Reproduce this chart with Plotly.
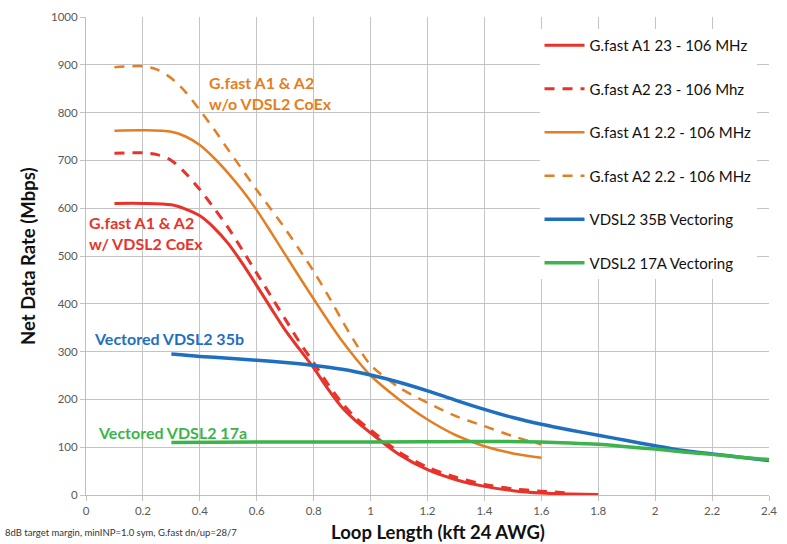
import plotly.graph_objects as go

# ---- data ----
red_solid_x = [0.1, 0.2, 0.3, 0.35, 0.4, 0.45, 0.5, 0.55, 0.6, 0.65, 0.7, 0.75, 0.8, 0.85, 0.9, 0.95, 1.0, 1.1, 1.2, 1.3, 1.4, 1.5, 1.6, 1.7, 1.8]
red_solid_y = [610, 610, 607, 598, 584, 559, 526, 484, 438, 391, 345, 305, 266, 222, 183, 154, 130, 85, 53, 32, 18, 9, 4, 2, 1]

red_dash_x = [0.1, 0.2, 0.25, 0.3, 0.35, 0.4, 0.45, 0.5, 0.55, 0.6, 0.65, 0.7, 0.75, 0.8, 0.85, 0.9, 0.95, 1.0, 1.1, 1.2, 1.3, 1.4, 1.5, 1.6, 1.7]
red_dash_y = [715, 716, 712, 700, 673, 639, 600, 559, 512, 464, 416, 368, 320, 277, 232, 192, 160, 136, 90, 58, 37, 22, 13, 8, 4]

orange_solid_x = [0.1, 0.2, 0.3, 0.35, 0.4, 0.45, 0.5, 0.55, 0.6, 0.65, 0.7, 0.75, 0.8, 0.85, 0.9, 0.95, 1.0, 1.1, 1.2, 1.3, 1.4, 1.5, 1.6]
orange_solid_y = [762, 763, 760, 750, 732, 705, 673, 637, 596, 550, 503, 456, 410, 365, 322, 284, 250, 200, 158, 125, 102, 87, 78]

orange_dash_x = [0.1, 0.2, 0.25, 0.3, 0.35, 0.4, 0.45, 0.5, 0.55, 0.6, 0.65, 0.7, 0.75, 0.8, 0.85, 0.9, 0.95, 1.0, 1.1, 1.2, 1.3, 1.4, 1.5, 1.6]
orange_dash_y = [895, 897, 890, 872, 843, 805, 765, 722, 680, 638, 598, 557, 513, 468, 418, 365, 315, 272, 225, 193, 165, 144, 123, 106]

blue_x = [0.3, 0.4, 0.5, 0.6, 0.7, 0.8, 0.9, 1.0, 1.1, 1.2, 1.3, 1.4, 1.5, 1.6, 1.7, 1.8, 1.9, 2.0, 2.1, 2.2, 2.3, 2.4]
blue_y = [295, 290, 286, 282, 277, 271, 263, 251, 236, 218, 198, 179, 162, 148, 136, 125, 114, 103, 93, 86, 79, 72]

green_x = [0.3, 0.6, 1.0, 1.4, 1.6, 1.7, 1.8, 1.9, 2.0, 2.1, 2.2, 2.3, 2.4]
green_y = [110, 111, 111, 112, 111, 109, 106, 101, 96, 90, 85, 79, 74]

names = ["G.fast A1 23 - 106 MHz", "G.fast A2 23 - 106 Mhz", "G.fast A1 2.2 - 106 MHz",
         "G.fast A2 2.2 - 106 MHz", "VDSL2 35B Vectoring", "VDSL2 17A Vectoring"]

x_ticks = [0, 0.2, 0.4, 0.6, 0.8, 1, 1.2, 1.4, 1.6, 1.8, 2, 2.2, 2.4]
x_tick_text = ["0", "0.2", "0.4", "0.6", "0.8", "1", "1.2", "1.4", "1.6", "1.8", "2", "2.2", "2.4"]
y_ticks = [0, 100, 200, 300, 400, 500, 600, 700, 800, 900, 1000]

RED = "#e8332a"
ORANGE = "#e57e22"
BLUE = "#1f6fc0"
GREEN = "#3cb44b"
FONT = "Lato"

fig = go.Figure()
series = [
    (red_solid_x, red_solid_y, RED, "solid", 3),
    (red_dash_x, red_dash_y, RED, "10px,8px", 3),
    (orange_solid_x, orange_solid_y, ORANGE, "solid", 2.5),
    (orange_dash_x, orange_dash_y, ORANGE, "10px,8px", 2.5),
    (blue_x, blue_y, BLUE, "solid", 3.5),
    (green_x, green_y, GREEN, "solid", 3.5),
]
for i, (xs, ys, c, d, w) in enumerate(series):
    fig.add_trace(go.Scatter(x=xs, y=ys, mode="lines", name=names[i], legendgroup=f"g{i}",
                             line=dict(color=c, dash=d, width=w, shape="spline", smoothing=0.8)))

axis_common = dict(showgrid=True, gridcolor="#c4c4c4", gridwidth=1, showline=True, linecolor="#bdbdbd",
                   ticks="outside", ticklen=5, tickcolor="#c4c4c4", zeroline=False,
                   tickfont=dict(family=FONT, size=11.5, color="#595959"))

fig.update_layout(
    width=787, height=544,
    margin=dict(l=86, r=10, t=17, b=49),
    paper_bgcolor="white", plot_bgcolor="white",
    font=dict(family=FONT),
    xaxis=dict(range=[0, 2.4], tickvals=x_ticks, ticktext=x_tick_text, **axis_common),
    yaxis=dict(range=[0, 1000], tickvals=y_ticks, **axis_common),
    legend=dict(x=0.664, y=0.975, xanchor="left", yanchor="top", bgcolor="white",
                font=dict(family=FONT, size=15, color="#111"), tracegroupgap=21, itemwidth=40),
    showlegend=True,
)

ann = [
    dict(x=0.425, y=841, text="G.fast A1 &amp; A2<br>w/o VDSL2 CoEx", color=ORANGE),
    dict(x=0.004, y=548, text="G.fast A1 &amp; A2<br>w/ VDSL2 CoEx", color=RED),
    dict(x=0.022, y=328, text="Vectored VDSL2 35b", color=BLUE),
    dict(x=0.036, y=130, text="Vectored VDSL2 17a", color=GREEN),
]
for a in ann:
    fig.add_annotation(x=a["x"], y=a["y"], xref="x", yref="y", text="<b>" + a["text"] + "</b>",
                       showarrow=False, xanchor="left", yanchor="middle", align="left",
                       font=dict(family=FONT, size=16, color=a["color"]))

fig.add_annotation(x=-0.121, y=-0.079, xref="paper", yref="paper", xanchor="left", yanchor="middle",
                   text="8dB target margin, minINP=1.0 sym, G.fast dn/up=28/7", showarrow=False,
                   font=dict(family=FONT, size=9.5, color="#333"))
fig.add_annotation(x=0.515, y=-0.077, xref="paper", yref="paper", xanchor="center", yanchor="middle",
                   text="<b>Loop Length (kft 24 AWG)</b>", showarrow=False,
                   font=dict(family=FONT, size=18.5, color="#111"))
fig.add_annotation(x=-0.085, y=0.5, xref="paper", yref="paper", xanchor="center", yanchor="middle",
                   text="<b>Net Data Rate (Mbps)</b>", showarrow=False, textangle=-90,
                   font=dict(family=FONT, size=18.5, color="#111"))

fig.write_html("out.html", config={"displayModeBar": False},
               post_script="document.body.style.margin='0';document.body.style.overflow='hidden';")
